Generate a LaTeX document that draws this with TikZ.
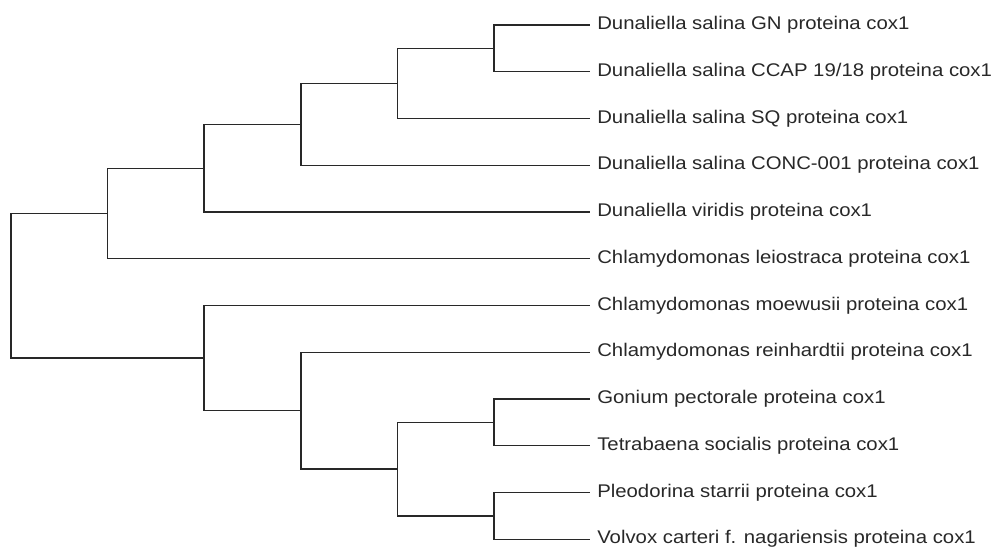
\documentclass[tikz,border=0pt]{standalone}
\usepackage{fontspec}
\newfontfamily\labelfont[FakeStretch=1.11]{Liberation Sans}
\usepackage{tikz}
\usetikzlibrary{calc}
\definecolor{mygray2}{RGB}{40, 40, 40}
\tikzset{
  branch/.style = {line width = 1, mygray2},
  taxon/.style = {anchor = west, inner xsep = 5.25pt, inner ysep = 0pt,
    text = mygray2, font = \labelfont\fontsize{13.75}{16}\selectfont}
}

\begin{document}
\begin{tikzpicture}[x = 0.75pt, y = -0.75pt]
\useasboundingbox (0, 0) rectangle (999, 550);
% leaves
\node[taxon] (GN) at (590, 25) {Dunaliella salina GN proteina cox1};
\node[taxon] (CCAP) at (590, 71.75) {Dunaliella salina CCAP 19/18 proteina cox1};
\node[taxon] (SQ) at (590, 118.5) {Dunaliella salina SQ proteina cox1};
\node[taxon] (CONC) at (590, 165.25) {Dunaliella salina CONC-001 proteina cox1};
\node[taxon] (viridis) at (590, 212) {Dunaliella viridis proteina cox1};
\node[taxon] (leio) at (590, 258.75) {Chlamydomonas leiostraca proteina cox1};
\node[taxon] (moew) at (590, 305.5) {Chlamydomonas moewusii proteina cox1};
\node[taxon] (rein) at (590, 352.25) {Chlamydomonas reinhardtii proteina cox1};
\node[taxon] (gonium) at (590, 399) {Gonium pectorale proteina cox1};
\node[taxon] (tetra) at (590, 445.75) {Tetrabaena socialis proteina cox1};
\node[taxon] (pleo) at (590, 492.5) {Pleodorina starrii proteina cox1};
\node[taxon] (volvox) at (590, 539.25) {Volvox carteri f. nagariensis proteina cox1};
% internal nodes
\coordinate (d1) at (494, 48.4);
\coordinate (d2) at (397.5, 83.4);
\coordinate (d3) at (301, 124.3);
\coordinate (d4) at (204, 168.2);
\coordinate (d5) at (107.5, 213.5);
\coordinate (c1) at (494, 422.4);
\coordinate (c2) at (494, 515.9);
\coordinate (c3) at (397.5, 469.1);
\coordinate (c4) at (301, 410.7);
\coordinate (c5) at (204, 358.1);
\coordinate (root) at (11, 285.8);
% branches
\draw[branch] (d1) |- (GN.west);
\draw[branch] (d1) |- (CCAP.west);
\draw[branch] (d2) |- (d1);
\draw[branch] (d2) |- (SQ.west);
\draw[branch] (d3) |- (d2);
\draw[branch] (d3) |- (CONC.west);
\draw[branch] (d4) |- (d3);
\draw[branch] (d4) |- (viridis.west);
\draw[branch] (d5) |- (d4);
\draw[branch] (d5) |- (leio.west);
\draw[branch] (c1) |- (gonium.west);
\draw[branch] (c1) |- (tetra.west);
\draw[branch] (c2) |- (pleo.west);
\draw[branch] (c2) |- (volvox.west);
\draw[branch] (c3) |- (c1);
\draw[branch] (c3) |- (c2);
\draw[branch] (c4) |- (rein.west);
\draw[branch] (c4) |- (c3);
\draw[branch] (c5) |- (moew.west);
\draw[branch] (c5) |- (c4);
\draw[branch] (root) |- (d5);
\draw[branch] (root) |- (c5);
\end{tikzpicture}
\end{document}
